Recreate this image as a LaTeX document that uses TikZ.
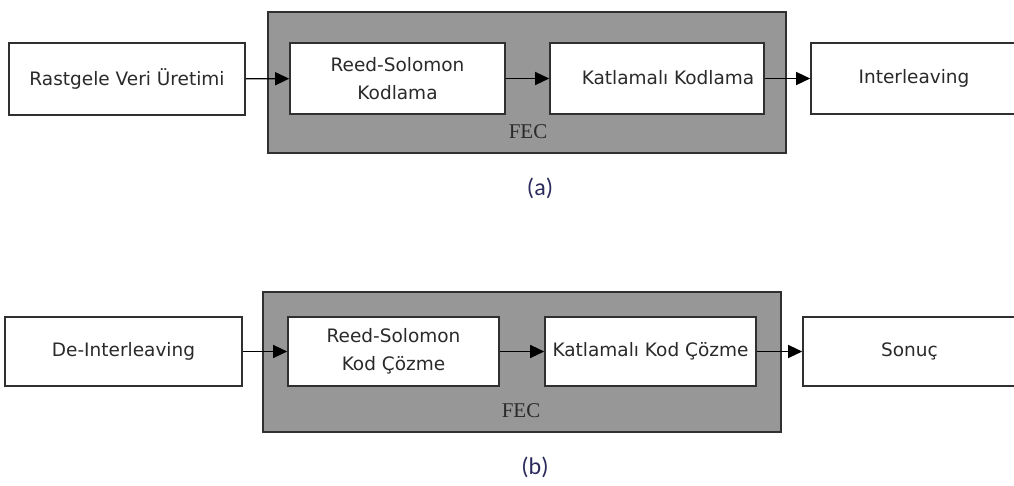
\documentclass[tikz,border=0pt]{standalone}
\usepackage{fontspec}
\setmainfont{DejaVu Sans}
\newfontfamily\fecfont{Liberation Serif}
\newfontfamily\capfont{Carlito}
\usetikzlibrary{arrows.meta}
\definecolor{boxline}{HTML}{303030}
\definecolor{boxtext}{HTML}{2A2A2A}
\definecolor{fecgray}{HTML}{979797}
\definecolor{capcol}{HTML}{2A2A5C}
\tikzset{
  blk/.style={draw=boxline, line width=1.6pt, fill=white, text=boxtext,
    minimum width=#1, minimum height=71pt, inner sep=0pt, align=center,
    font=\fontsize{18.5}{28}\selectfont},
  fecbox/.style={draw=boxline, line width=2pt, fill=fecgray},
  feclabel/.style={text=boxtext, font=\fecfont\fontsize{21}{22}\selectfont},
  caption/.style={text=capcol, font=\capfont\fontsize{24}{26}\selectfont},
  flow/.style={draw=black, line width=1.3pt, -{Triangle[length=14pt,width=13pt]}}
}
\begin{document}
\begin{tikzpicture}[x=1pt,y=-1pt]
\useasboundingbox (0,0) rectangle (1014,485);
% ---- (a) encoder chain
\draw[fecbox] (268,12) rectangle (786,153);
\node[feclabel] (fecA) at (528,132) {FEC};
\node[blk=236pt, minimum height=72pt] (gen) at (127,79) {Rastgele Veri Üretimi};
\node[blk=215pt] (rsA) at (397.5,78.5) {Reed-Solomon\\Kodlama};
\node[blk=214pt] (convA) at (657,78.5) {\raisebox{3pt}{\hspace*{22pt}Katlamalı Kodlama}};
\node[blk=206pt] (intl) at (914,78.5) {\raisebox{3pt}{Interleaving}};
\draw[flow] (gen) -- (rsA);
\draw[flow] (rsA) -- (convA);
\draw[flow] (convA) -- (intl);
\node[caption] (capA) at (540,188) {(a)};
% ---- (b) decoder chain
\draw[fecbox] (263,292) rectangle (781,432);
\node[feclabel] (fecB) at (521,411) {FEC};
\node[blk=237pt, minimum height=69pt] (deint) at (123.5,351.5) {De-Interleaving};
\node[blk=211pt, minimum height=69pt] (rsB) at (393.5,351.5) {Reed-Solomon\\Kod Çözme};
\node[blk=211pt, minimum height=69pt] (convB) at (650.5,351.5) {Katlamalı Kod Çözme};
\node[blk=213pt, minimum height=69pt] (res) at (909.5,351.5) {Sonuç};
\draw[flow] (deint) -- (rsB);
\draw[flow] (rsB) -- (convB);
\draw[flow] (convB) -- (res);
\node[caption] (capB) at (535,467) {(b)};
\end{tikzpicture}
\end{document}
